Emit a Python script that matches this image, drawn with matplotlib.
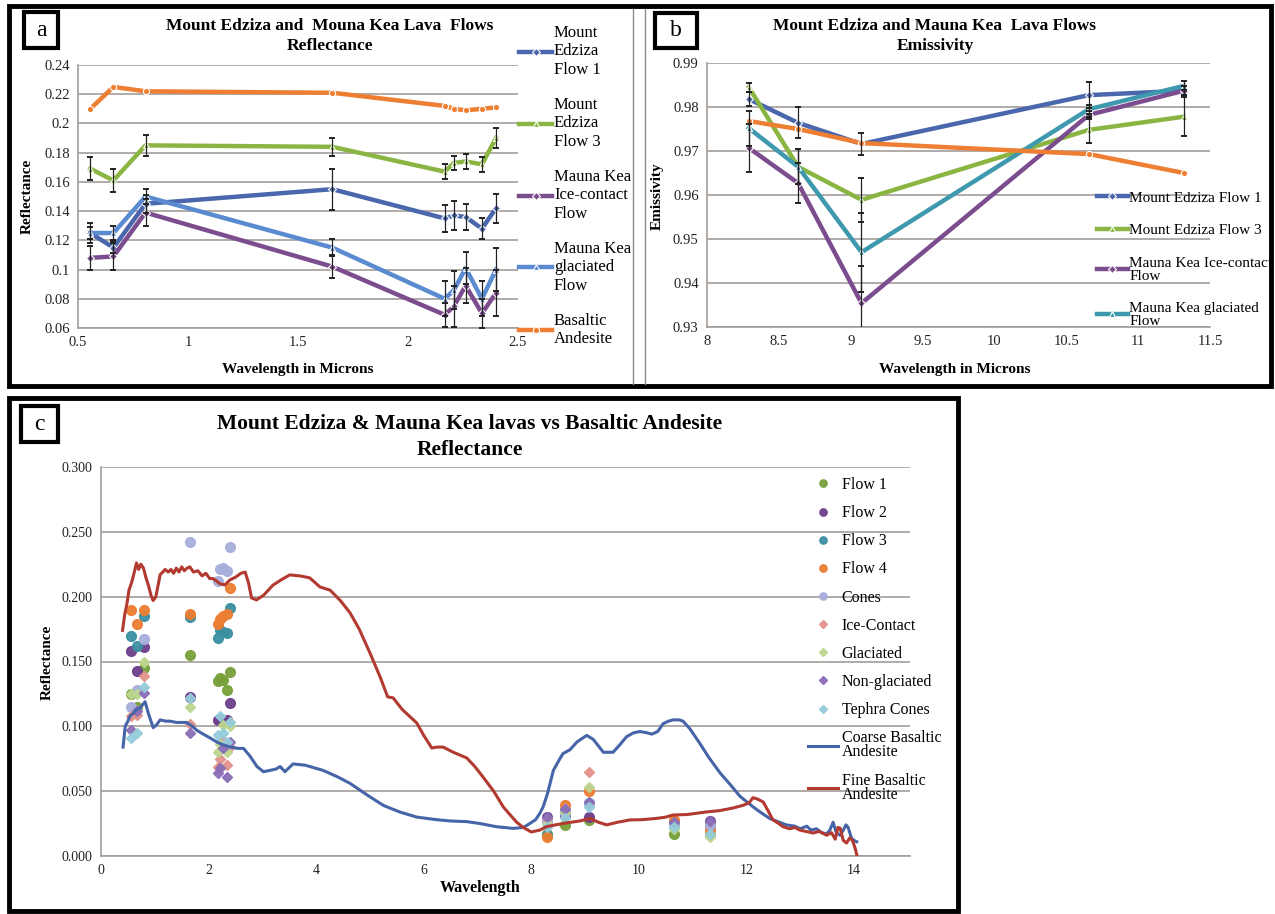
import matplotlib
matplotlib.use("Agg")
import matplotlib.pyplot as plt
from matplotlib.patches import Rectangle
from matplotlib.lines import Line2D
from matplotlib.ticker import FuncFormatter, MultipleLocator

plt.rcParams['font.family'] = ['Liberation Serif', 'DejaVu Serif']

W, H = 1275, 914

# ---------------- Panel a data (reflectance, VNIR/SWIR) ----------------
wl_a = [0.556, 0.661, 0.807, 1.656, 2.167, 2.209, 2.262, 2.336, 2.400]
flow1_a = [0.125, 0.115, 0.145, 0.155, 0.135, 0.137, 0.136, 0.128, 0.142]
flow3_a = [0.169, 0.161, 0.185, 0.184, 0.167, 0.173, 0.174, 0.172, 0.190]
ice_a = [0.108, 0.109, 0.139, 0.102, 0.069, 0.075, 0.089, 0.070, 0.084]
glac_a = [0.125, 0.125, 0.150, 0.115, 0.080, 0.086, 0.101, 0.080, 0.100]
basalt_a = [0.210, 0.225, 0.222, 0.221, 0.212, 0.210, 0.209, 0.210, 0.211]
flow1_err_a = [0.004, 0.004, 0.006, 0.014, 0.009, 0.010, 0.009, 0.007, 0.010]
flow3_err_a = [0.008, 0.008, 0.007, 0.006, 0.005, 0.005, 0.005, 0.005, 0.007]
ice_err_a = [0.008, 0.009, 0.009, 0.008, 0.008, 0.014, 0.012, 0.010, 0.016]
glac_err_a = [0.007, 0.005, 0.005, 0.006, 0.012, 0.013, 0.011, 0.012, 0.015]
labels_a = ["Mount\nEdziza\nFlow 1", "Mount\nEdziza\nFlow 3", "Mauna Kea\nIce-contact\nFlow",
            "Mauna Kea\nglaciated\nFlow", "Basaltic\nAndesite"]

# ---------------- Panel b data (emissivity, TIR) ----------------
wl_b = [8.291, 8.634, 9.075, 10.657, 11.318]
flow1_b = [0.9818, 0.9764, 0.9716, 0.9827, 0.9837]
flow3_b = [0.9845, 0.9664, 0.9589, 0.9748, 0.9778]
ice_b = [0.9707, 0.9627, 0.9354, 0.9782, 0.9837]
glac_b = [0.9752, 0.9664, 0.9470, 0.9795, 0.9848]
basalt_b = [0.9768, 0.9750, 0.9718, 0.9693, 0.9650]
flow1_err_b = [0.0015, 0.0035, 0.0025, 0.0030, 0.0010]
flow3_err_b = [0.0010, 0.0040, 0.0050, 0.0030, 0.0045]
ice_err_b = [0.0055, 0.0045, 0.0085, 0.0010, 0.0010]
glac_err_b = [0.0040, 0.0040, 0.0090, 0.0010, 0.0010]
labels_b = ["Mount Edziza Flow 1", "Mount Edziza Flow 3",
            "Mauna Kea Ice-contact\nFlow", "Mauna Kea glaciated\nFlow"]

# ---------------- Panel c data ----------------
wl_c = [0.556, 0.661, 0.807, 1.656, 2.167, 2.209, 2.262, 2.336, 2.400,
        8.291, 8.634, 9.075, 10.657, 11.318]
c_flow1 = [0.125, 0.115, 0.145, 0.155, 0.135, 0.137, 0.136, 0.128, 0.142, 0.017, 0.024, 0.028, 0.017, 0.017]
c_flow2 = [0.158, 0.143, 0.161, 0.123, 0.105, 0.106, 0.104, 0.105, 0.118, 0.030, 0.032, 0.030, 0.025, 0.027]
c_flow3 = [0.170, 0.162, 0.185, 0.184, 0.168, 0.174, 0.173, 0.172, 0.191, 0.016, 0.034, 0.041, 0.025, 0.022]
c_flow4 = [0.190, 0.179, 0.190, 0.187, 0.179, 0.183, 0.185, 0.187, 0.207, 0.015, 0.039, 0.050, 0.028, 0.021]
c_cones = [0.115, 0.128, 0.167, 0.242, 0.212, 0.221, 0.222, 0.220, 0.238, 0.026, 0.033, 0.041, 0.024, 0.024]
c_ice = [0.108, 0.109, 0.139, 0.102, 0.069, 0.075, 0.089, 0.070, 0.084, 0.029, 0.037, 0.065, 0.022, 0.016]
c_glac = [0.125, 0.125, 0.150, 0.115, 0.080, 0.086, 0.101, 0.080, 0.100, 0.025, 0.034, 0.053, 0.021, 0.015]
c_nonglac = [0.097, 0.112, 0.126, 0.095, 0.064, 0.068, 0.083, 0.061, 0.088, 0.030, 0.036, 0.042, 0.026, 0.027]
c_tephra = [0.091, 0.095, 0.130, 0.122, 0.093, 0.108, 0.095, 0.088, 0.103, 0.022, 0.029, 0.038, 0.022, 0.017]
scatter_labels = ["Flow 1", "Flow 2", "Flow 3", "Flow 4", "Cones", "Ice-Contact",
                  "Glaciated", "Non-glaciated", "Tephra Cones"]

coarse_wl = [0.41, 0.45, 0.50, 0.54, 0.60, 0.66, 0.72, 0.78, 0.82, 0.88, 0.97, 1.03, 1.10, 1.20,
             1.28, 1.40, 1.50, 1.59, 1.70, 1.78, 1.90, 2.03, 2.15, 2.25, 2.40, 2.55, 2.65, 2.77,
             2.90, 3.02, 3.14, 3.25, 3.33, 3.42, 3.57, 3.80, 4.13, 4.40, 4.63, 4.95, 5.25, 5.55,
             5.87, 6.24, 6.50, 6.80, 7.05, 7.35, 7.66, 7.85, 7.97, 8.08, 8.16, 8.22, 8.30, 8.41,
             8.53, 8.59, 8.72, 8.85, 9.03, 9.15, 9.34, 9.52, 9.65, 9.77, 9.90, 10.02, 10.15, 10.24,
             10.35, 10.45, 10.55, 10.64, 10.75, 10.82, 10.95, 11.13, 11.30, 11.51, 11.70, 11.88,
             12.00, 12.12, 12.25, 12.43, 12.55, 12.74, 12.90, 13.00, 13.12, 13.20, 13.30, 13.40,
             13.49, 13.55, 13.61, 13.67, 13.74, 13.80, 13.85, 13.89, 13.95, 14.00, 14.05]
coarse_r = [0.084, 0.100, 0.104, 0.108, 0.110, 0.113, 0.114, 0.117, 0.119, 0.110, 0.099, 0.101, 0.105, 0.104,
            0.104, 0.103, 0.103, 0.103, 0.100, 0.097, 0.094, 0.091, 0.088, 0.086, 0.084, 0.083, 0.083, 0.077,
            0.069, 0.065, 0.066, 0.067, 0.069, 0.065, 0.071, 0.070, 0.066, 0.061, 0.056, 0.047, 0.039, 0.034,
            0.030, 0.028, 0.027, 0.0265, 0.025, 0.0226, 0.0213, 0.022, 0.025, 0.028, 0.033, 0.038, 0.048, 0.066,
            0.075, 0.079, 0.082, 0.088, 0.093, 0.090, 0.080, 0.080, 0.086, 0.092, 0.095, 0.096, 0.095, 0.094,
            0.096, 0.102, 0.104, 0.105, 0.105, 0.104, 0.098, 0.087, 0.076, 0.064, 0.055, 0.046,
            0.042, 0.038, 0.034, 0.029, 0.027, 0.024, 0.023, 0.021, 0.023, 0.020, 0.021, 0.018,
            0.017, 0.020, 0.026, 0.018, 0.016, 0.020, 0.024, 0.022, 0.014, 0.012, 0.011]

fine_wl = [0.40, 0.44, 0.48, 0.52, 0.57, 0.62, 0.66, 0.70, 0.74, 0.79, 0.84, 0.88, 0.93, 0.97,
           1.02, 1.10, 1.15, 1.19, 1.25, 1.30, 1.35, 1.40, 1.45, 1.50, 1.55, 1.60, 1.65, 1.72,
           1.80, 1.88, 1.95, 2.02, 2.08, 2.15, 2.21, 2.30, 2.40, 2.50, 2.60, 2.68, 2.74, 2.80,
           2.89, 3.02, 3.20, 3.35, 3.51, 3.70, 3.88, 4.07, 4.26, 4.45, 4.63, 4.80, 5.00, 5.19,
           5.33, 5.43, 5.60, 5.87, 6.00, 6.15, 6.25, 6.36, 6.55, 6.80, 6.95, 7.10, 7.30, 7.48,
           7.60, 7.73, 7.85, 8.00, 8.16, 8.28, 8.45, 8.65, 8.90, 9.09, 9.25, 9.40, 9.60, 9.83,
           10.05, 10.33, 10.50, 10.63, 10.90, 11.26, 11.50, 11.75, 11.93, 12.05, 12.12, 12.20,
           12.31, 12.40, 12.49, 12.60, 12.68, 12.80, 12.90, 12.99, 13.10, 13.24, 13.35, 13.49,
           13.58, 13.65, 13.70, 13.74, 13.80, 13.86, 13.92, 13.97, 14.02, 14.05]
fine_r = [0.174, 0.186, 0.194, 0.205, 0.211, 0.219, 0.226, 0.221, 0.225, 0.222, 0.214, 0.209, 0.201, 0.197,
          0.200, 0.217, 0.219, 0.221, 0.219, 0.221, 0.218, 0.222, 0.219, 0.223, 0.220, 0.222, 0.223, 0.219,
          0.220, 0.216, 0.218, 0.214, 0.214, 0.212, 0.210, 0.209, 0.213, 0.215, 0.218, 0.219, 0.211, 0.199,
          0.1975, 0.201, 0.209, 0.213, 0.2168, 0.216, 0.2145, 0.2075, 0.205, 0.197, 0.1875, 0.175, 0.1566, 0.138,
          0.1227, 0.122, 0.113, 0.1026, 0.093, 0.0833, 0.084, 0.084, 0.080, 0.0756, 0.069, 0.061, 0.050, 0.0378,
          0.032, 0.026, 0.022, 0.0185, 0.020, 0.0226, 0.024, 0.0255, 0.027, 0.029, 0.026, 0.024, 0.026, 0.0278,
          0.028, 0.029, 0.030, 0.0316, 0.032, 0.034, 0.035, 0.037, 0.039, 0.041, 0.045, 0.044,
          0.0417, 0.035, 0.028, 0.025, 0.0226, 0.021, 0.022, 0.020, 0.019, 0.0177, 0.019, 0.016,
          0.018, 0.013, 0.022, 0.0216, 0.012, 0.010, 0.014, 0.012, 0.006, 0.001]

# ---------------- styles ----------------
C_BLUE = '#4A66AC'
C_GREEN = '#8BB542'
C_PURPLE = '#7B4C8E'
C_LBLUE = '#5A8AD0'
C_TEAL = '#3F99AE'
C_ORANGE = '#EE7E32'
GRID = '#A39D98'

fig = plt.figure(figsize=(W / 100, H / 100), dpi=100)
fig.patch.set_facecolor('white')


def fx(px):
    return px / W


def fy(py):
    return 1 - py / H


def rect_px(x0, y0, x1, y1, lw, color='black', z=0):
    fig.add_artist(Rectangle((fx(x0), fy(y1)), fx(x1) - fx(x0), fy(y0) - fy(y1),
                             transform=fig.transFigure, fill=False, lw=lw, ec=color, zorder=z))


def line_px(x0, y0, x1, y1, lw, color):
    fig.add_artist(Line2D([fx(x0), fx(x1)], [fy(y0), fy(y1)], transform=fig.transFigure,
                          lw=lw, color=color))


def ax_px(x0, y0, x1, y1):
    return fig.add_axes([fx(x0), fy(y1), fx(x1) - fx(x0), fy(y0) - fy(y1)])


def style_ax(ax, tick_fs):
    for s in ['top', 'right']:
        ax.spines[s].set_visible(False)
    for s in ['left', 'bottom']:
        ax.spines[s].set_color(GRID)
        ax.spines[s].set_linewidth(1.2)
    ax.yaxis.grid(True, color=GRID, lw=1.2)
    ax.set_axisbelow(True)
    ax.tick_params(axis='both', length=0, labelsize=tick_fs, colors='#222222', pad=6)
    ax.set_facecolor('none')


gfmt = FuncFormatter(lambda v, p: ('%g' % round(v, 4)))

# frames
rect_px(9, 6, 1271, 386, 3.5)
line_px(633, 9, 633, 384, 1.0, '#8C8C8C')
line_px(645, 9, 645, 384, 1.0, '#8C8C8C')
rect_px(9, 398, 958, 911, 3.5)
rect_px(24, 12, 58, 48, 3.0)
rect_px(655, 13, 697, 48, 3.0)
rect_px(21, 406, 58, 442, 3.0)
fig.text(fx(41), fy(30), 'a', fontsize=17, ha='center', va='center')
fig.text(fx(676), fy(30), 'b', fontsize=17, ha='center', va='center')
fig.text(fx(39.5), fy(424), 'c', fontsize=17, ha='center', va='center')

# ---------------- Panel a ----------------
axa = ax_px(78, 65, 518, 328)
style_ax(axa, 10.5)
series_a = [(flow1_a, flow1_err_a, C_BLUE, 'D'), (flow3_a, flow3_err_a, C_GREEN, '^'),
            (ice_a, ice_err_a, C_PURPLE, 'D'), (glac_a, glac_err_a, C_LBLUE, '^'),
            (basalt_a, None, C_ORANGE, 'o')]
handles_a = []
for (vals, err, col, mk), lab in zip(series_a, labels_a):
    h, = axa.plot(wl_a, vals, color=col, lw=3.2, marker=mk, ms=4.5, mfc=col, mec='white',
                  mew=0.8, label=lab, zorder=3)
    handles_a.append(h)
    if err is not None:
        axa.errorbar(wl_a, vals, yerr=err, fmt='none', ecolor='#222222', elinewidth=0.9,
                     capsize=2.5, capthick=1.4, zorder=4)
axa.set_xlim(0.5, 2.5)
axa.set_ylim(0.06, 0.24)
axa.xaxis.set_major_locator(MultipleLocator(0.5))
axa.yaxis.set_major_locator(MultipleLocator(0.02))
axa.xaxis.set_major_formatter(gfmt)
axa.yaxis.set_major_formatter(gfmt)
fig.text(fx(330), fy(26), 'Mount Edziza and  Mouna Kea Lava  Flows', fontsize=12.5,
         fontweight='bold', ha='center', va='center')
fig.text(fx(330), fy(46), 'Reflectance', fontsize=12.5, fontweight='bold', ha='center', va='center')
fig.text(fx(27), fy(196), 'Reflectance', fontsize=11, fontweight='bold', ha='center',
         va='center', rotation=90)
fig.text(fx(298), fy(369), 'Wavelength in Microns', fontsize=11, fontweight='bold',
         ha='center', va='center')
fig.legend(handles=handles_a, labels=labels_a, loc='upper left',
           bbox_to_anchor=(fx(519), fy(25)), frameon=False, fontsize=12,
           handlelength=2.0, handletextpad=0.1, labelspacing=1.15, borderaxespad=0,
           borderpad=0)

# ---------------- Panel b ----------------
axb = ax_px(707, 63, 1210, 327)
style_ax(axb, 10.5)
series_b = [(flow1_b, flow1_err_b, C_BLUE, 'D'), (flow3_b, flow3_err_b, C_GREEN, '^'),
            (ice_b, ice_err_b, C_PURPLE, 'D'), (glac_b, glac_err_b, C_TEAL, '^')]
handles_b = []
for (vals, err, col, mk), lab in zip(series_b, labels_b):
    h, = axb.plot(wl_b, vals, color=col, lw=3.2, marker=mk, ms=4.5, mfc=col, mec='white',
                  mew=0.8, label=lab, zorder=3)
    handles_b.append(h)
    axb.errorbar(wl_b, vals, yerr=err, fmt='none', ecolor='#222222', elinewidth=0.9,
                 capsize=2.5, capthick=1.4, zorder=4)
axb.plot(wl_b, basalt_b, color=C_ORANGE, lw=3.2, marker='o', ms=4.5, mfc=C_ORANGE,
         mec='white', mew=0.8, zorder=3)
axb.set_xlim(8, 11.5)
axb.set_ylim(0.93, 0.99)
axb.xaxis.set_major_locator(MultipleLocator(0.5))
axb.yaxis.set_major_locator(MultipleLocator(0.01))
axb.xaxis.set_major_formatter(gfmt)
axb.yaxis.set_major_formatter(gfmt)
fig.text(fx(935), fy(26), 'Mount Edziza and Mauna Kea  Lava Flows', fontsize=12.5,
         fontweight='bold', ha='center', va='center')
fig.text(fx(935), fy(46), 'Emissivity', fontsize=12.5, fontweight='bold', ha='center', va='center')
fig.text(fx(657), fy(196), 'Emissivity', fontsize=11, fontweight='bold', ha='center',
         va='center', rotation=90)
fig.text(fx(955), fy(369), 'Wavelength in Microns', fontsize=11, fontweight='bold',
         ha='center', va='center')
leg_b = fig.legend(handles=handles_b, labels=labels_b, loc='upper left',
                   bbox_to_anchor=(fx(1097), fy(191)), frameon=False, fontsize=11,
                   handlelength=2.0, handletextpad=0.1, labelspacing=1.25, borderaxespad=0,
                   borderpad=0)
for t in leg_b.get_texts():
    t.set_linespacing(1.0)

# ---------------- Panel c ----------------
axc = ax_px(101, 467, 910, 856)
style_ax(axc, 10)
sc_series = [(c_flow1, '#77A03A', 'o'), (c_flow2, '#6E3F8C', 'o'), (c_flow3, '#3A8FA0', 'o'),
             (c_flow4, '#ED7D31', 'o'), (c_cones, '#A7AEDC', 'o'), (c_ice, '#E2938C', 'D'),
             (c_glac, '#BDD68E', 'D'), (c_nonglac, '#8A6EB8', 'D'), (c_tephra, '#95CCDA', 'D')]
handles_c = []
for (vals, col, mk), lab in zip(sc_series, scatter_labels):
    ms = 7 if mk == 'o' else 5.5
    h, = axc.plot(wl_c, vals, ls='none', marker=mk, ms=ms, color=col, mec=col, alpha=0.95,
                  label=lab, zorder=2)
    handles_c.append(h)
h1, = axc.plot(coarse_wl, coarse_r, color='#4565A8', lw=2.2, label='Coarse Basaltic\nAndesite', zorder=3)
h2, = axc.plot(fine_wl, fine_r, color='#B23A30', lw=2.2, label='Fine Basaltic\nAndesite', zorder=3)
axc.set_xlim(0, 15.04)
axc.set_ylim(0, 0.3)
axc.set_xticks([0, 2, 4, 6, 8, 10, 12, 14])
axc.yaxis.set_major_locator(MultipleLocator(0.05))
axc.yaxis.set_major_formatter(FuncFormatter(lambda v, p: '%.3f' % v))
fig.text(fx(470), fy(424), 'Mount Edziza & Mauna Kea lavas vs Basaltic Andesite', fontsize=15.5,
         fontweight='bold', ha='center', va='center')
fig.text(fx(470), fy(450), 'Reflectance', fontsize=15.5, fontweight='bold', ha='center', va='center')
fig.text(fx(47), fy(662), 'Reflectance', fontsize=11, fontweight='bold', ha='center',
         va='center', rotation=90)
fig.text(fx(480), fy(888), 'Wavelength', fontsize=11.5, fontweight='bold', ha='center', va='center')
leg_c = fig.legend(handles=handles_c + [h1, h2],
                   labels=scatter_labels + ['Coarse Basaltic\nAndesite', 'Fine Basaltic\nAndesite'],
                   loc='upper left', bbox_to_anchor=(fx(808), fy(477)), frameon=False,
                   fontsize=11.5, handlelength=1.9, handletextpad=0.2, labelspacing=0.76,
                   borderaxespad=0, borderpad=0, markerscale=0.75)
for t in leg_c.get_texts():
    t.set_linespacing(0.85)

fig.savefig('out.png', dpi=100)
